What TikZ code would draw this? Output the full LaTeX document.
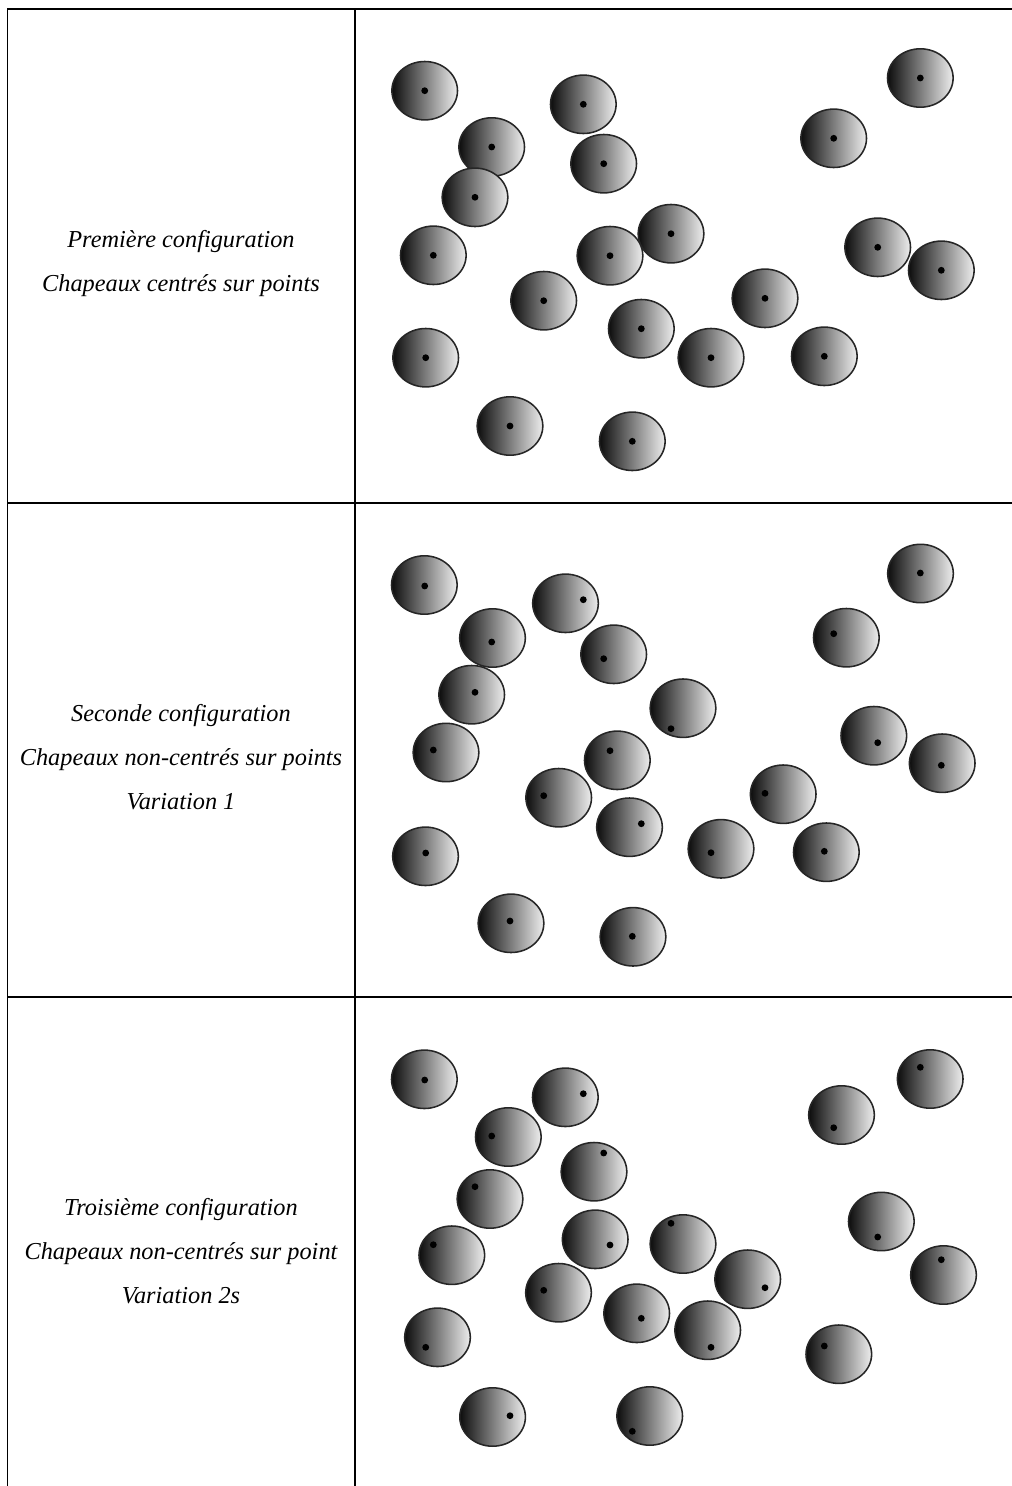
\documentclass[tikz,border=0pt]{standalone}
\usepackage{fontspec}
\setmainfont{Liberation Serif}
\usetikzlibrary{shapes.geometric}

\begin{document}
\begin{tikzpicture}[x=0.025cm, y=-0.025cm, rule/.style={line width=1.4pt}, hat/.style={ellipse, draw=black!85, line width=1.1pt, left color=black!95, right color=black!7, minimum width=1.64cm, minimum height=1.46cm, inner sep=0pt}, pin/.style={circle, fill=black, inner sep=0pt, minimum size=0.17cm}, caption/.style={align=center, font=\itshape\fontsize{17.3}{31.3}\selectfont}]
\useasboundingbox (0,0) rectangle (1012,1486);
% table rules
\coordinate (tl) at (7.5,9);
\coordinate (tr) at (1012,9);
\coordinate (bl) at (7.5,1486);
\coordinate (mt) at (355,9);
\coordinate (mb) at (355,1486);
\draw[rule] (bl) -- (tl) -- (tr);
\draw[rule] (mt) -- (mb);
\draw[rule] (7.5,502.7) -- (1012,502.7);
\draw[rule] (7.5,997.3) -- (1012,997.3);
% captions
\node[caption] (cfgA) at (181,263.5) {Première configuration\\Chapeaux centrés sur points};
\node[caption] (cfgB) at (181,757) {Seconde configuration\\Chapeaux non-centrés sur points\\Variation 1};
\node[caption] (cfgC) at (181,1251.5) {Troisième configuration\\Chapeaux non-centrés sur point\\Variation 2s};
% first configuration: hats centred on the points
\foreach \hx/\hy [count=\i] in {424.7/90.7, 491.7/147, 475/197.3, 433.3/255.3, 425.7/357.7, 510/426, 583.3/104.3, 603.7/163.7, 833.7/138.3, 920.3/78, 671/233.7, 610/255.7, 543.7/300.7, 877.7/247.3, 941.3/270.3, 765/298.3, 641.3/328.7, 711/357.7, 824.3/356.3, 632.3/441.3}
{
  \node[hat] (a\i) at (\hx,\hy) {};
  \node[pin] (a\i-p) at (a\i.center) {};
}
% second configuration
\foreach \hx/\hy/\px/\py [count=\i] in {424.3/585/424.7/586, 492.5/638/491.7/642, 471.7/694.7/475/692.3, 446/752.5/433.3/750, 425.5/856.3/425.7/853, 511/923.3/510/921, 565.5/603.3/583.3/599.7, 613.7/654.3/603.7/658.7, 846.3/637.7/833.7/633.7, 920.5/573.5/920.3/573, 683/708.2/671/728.7, 617.3/760.3/610/750.7, 558.7/797.7/543.7/795.7, 873.8/735.7/877.7/742.7, 942.2/763.2/941.3/765.3, 783.2/794.2/765/793.3, 629.5/827.2/641.3/823.7, 721/848.8/711/852.7, 826.3/852.2/824.3/851.3, 633/936.8/632.3/936.3}
{
  \node[hat] (b\i) at (\hx,\hy) {};
  \node[pin] (b\i-p) at (\px,\py) {};
}
% third configuration
\foreach \hx/\hy/\px/\py [count=\i] in {424.3/1079.3/424.7/1080, 508.3/1137/491.7/1136, 490/1199/475/1186.7, 451.8/1255.2/433.3/1244.7, 437.5/1337.3/425.7/1347.3, 492.6/1417/510/1415.7, 565.3/1097.3/583.3/1093.7, 594/1171.7/603.7/1153, 841.5/1115/833.7/1127.7, 930.2/1079/920.3/1067.3, 683/1244/671/1223.3, 595.2/1239.3/610/1245, 558.5/1292.7/543.7/1290.3, 881.3/1221.5/877.7/1237, 943.5/1275/941.3/1259.7, 747.7/1279.2/765/1287.7, 636.7/1313.3/641.3/1318.3, 707.7/1330.2/711/1347.3, 838.8/1354.2/824.3/1346, 649.7/1416/632.3/1431.3}
{
  \node[hat] (c\i) at (\hx,\hy) {};
  \node[pin] (c\i-p) at (\px,\py) {};
}
\end{tikzpicture}
\end{document}
